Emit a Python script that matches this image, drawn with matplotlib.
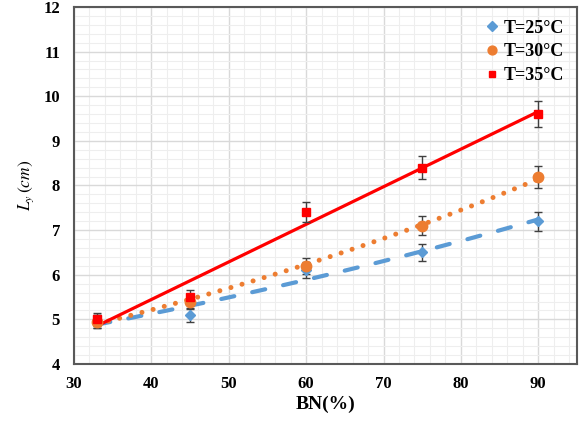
import numpy as np
import matplotlib
matplotlib.use("Agg")
import matplotlib.pyplot as plt
from matplotlib.ticker import MultipleLocator

plt.rcParams['font.family'] = ['Liberation Serif', 'DejaVu Serif']
plt.rcParams['mathtext.fontset'] = 'stix'

bn = np.array([33, 45, 60, 75, 90])
ly_25 = np.array([4.95, 5.1, 6.1, 6.5, 7.2])
ly_30 = np.array([4.95, 5.4, 6.2, 7.1, 8.2])
ly_35 = np.array([5.0, 5.5, 7.4, 8.4, 9.6])
labels = ['T=25°C', 'T=30°C', 'T=35°C']
colors = ['#5B9BD5', '#ED7D31', '#FF0000']

fig = plt.figure(figsize=(5.79, 4.23), dpi=100)
ax = fig.add_axes([0.1278, 0.1395, 0.8687, 0.844])

xs = np.linspace(bn.min(), bn.max(), 200)
# trendlines (fitted from data)
c25 = np.polyfit(bn, np.log(ly_25), 1)
c30 = np.polyfit(bn, np.log(ly_30), 1)
c35 = np.polyfit(bn, ly_35, 1)
ax.plot(xs, np.exp(np.polyval(c25, xs)), color=colors[0], lw=3.0,
        dashes=(3.2, 4.4), dash_capstyle='round', zorder=3)
ax.plot(xs, np.exp(np.polyval(c30, xs)), color=colors[1], lw=3.6,
        dashes=(0.01, 2.3), dash_capstyle='round', zorder=3)
ax.plot(xs, np.polyval(c35, xs), color=colors[2], lw=2.3, zorder=3)

markers = ['D', 'o', 's']
msizes = [5.5, 7.5, 5.5]
for y, c, m, ms, lab in zip([ly_25, ly_30, ly_35], colors, markers, msizes, labels):
    ax.errorbar(bn, y, yerr=0.03 * y, fmt=m, color=c, ms=ms, mec=c,
                ecolor='#404040', elinewidth=1, capsize=3, capthick=1,
                label=lab, zorder=4)

ax.set_xlim(30, 95)
ax.set_ylim(4, 12)
ax.xaxis.set_major_locator(MultipleLocator(10))
ax.xaxis.set_minor_locator(MultipleLocator(2))
ax.yaxis.set_major_locator(MultipleLocator(1))
ax.yaxis.set_minor_locator(MultipleLocator(0.2))
ax.grid(True, which='major', color='#d9d9d9', lw=1, zorder=0)
ax.grid(True, which='minor', color='#eeeeee', lw=0.8, zorder=0)
ax.set_axisbelow(True)
ax.tick_params(which='both', length=0)
ax.tick_params(axis='y', pad=10)
ax.tick_params(axis='x', pad=9)
for lbl in ax.get_xticklabels() + ax.get_yticklabels():
    lbl.set_fontweight('bold')
    lbl.set_fontsize(12)
for s in ax.spines.values():
    s.set_color('#595959')
    s.set_linewidth(1.5)

ax.set_xlabel('BN(%)', fontsize=14, fontweight='bold', labelpad=2)
ax.set_ylabel(r'$L_y\,(cm)$', fontsize=12.5, labelpad=5)

handles, labs = ax.get_legend_handles_labels()
handles = [h[0] for h in handles]
leg = ax.legend(handles, labs, loc='upper right', frameon=False,
                prop={'weight': 'bold', 'size': 13}, handlelength=0.5,
                handletextpad=0.4, labelspacing=0.38, borderaxespad=0.3,
                markerscale=0.85)

fig.savefig('out.png', dpi=100)
